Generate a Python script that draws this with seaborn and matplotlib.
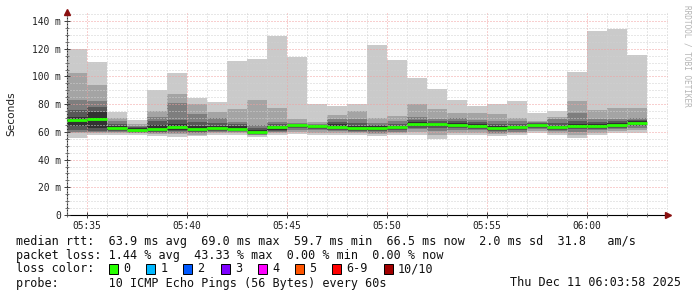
import matplotlib
matplotlib.use("Agg")
import matplotlib.pyplot as plt
import seaborn as sns
import numpy as np
import pandas as pd
from matplotlib.patches import Rectangle
from matplotlib.ticker import MultipleLocator

sns.set_theme(style="white")
plt.rcParams['font.family'] = ['DejaVu Sans Mono', 'DejaVu Sans']

# ---------------- data ----------------
bin_start = ['05:34', '05:35', '05:36', '05:37', '05:38', '05:39', '05:40', '05:41',
             '05:42', '05:43', '05:44', '05:45', '05:46', '05:47', '05:48', '05:49',
             '05:50', '05:51', '05:52', '05:53', '05:54', '05:55', '05:56', '05:57',
             '05:58', '05:59', '06:00', '06:01', '06:02']

# sorted ping round trip times (ms) per 1-minute bin, p1 = fastest ... p10 = slowest
p10 = [119.8, 110.6, 74.6, 68.3, 90.4, 102.5, 84.7, 81.3, 111.1, 112.6, 129.4, 114.3, 80.1, 78.9, 80.0,
       122.7, 111.9, 99.1, 90.9, 83.0, 78.9, 79.9, 82.3, 73.8, 75.0, 103.4, 132.8, 134.5, 115.5]
p9 = [102.5, 93.8, 70.2, 66.0, 75.0, 87.6, 80.0, 74.0, 76.5, 83.0, 77.5, 69.3, 67.0, 72.2, 75.0,
      70.2, 71.7, 80.1, 76.5, 73.8, 73.4, 73.0, 69.8, 68.0, 71.0, 82.3, 75.8, 77.5, 77.5]
p8 = [83.2, 82.0, 67.8, 64.5, 71.0, 80.5, 73.0, 70.0, 67.4, 65.0, 67.0, 66.5, 65.5, 69.3, 69.0,
      66.5, 67.5, 71.0, 69.0, 70.0, 68.5, 68.0, 67.5, 67.0, 69.0, 73.8, 69.3, 69.0, 70.0]
p7 = [75.5, 78.0, 65.5, 63.5, 68.0, 68.6, 67.0, 66.5, 65.5, 63.0, 65.5, 65.8, 65.0, 67.0, 66.5,
      65.0, 66.0, 68.5, 67.5, 67.5, 67.0, 66.0, 66.0, 66.5, 66.5, 68.0, 67.0, 67.5, 68.5]
p6 = [71.0, 74.5, 64.0, 62.5, 65.0, 65.5, 64.0, 64.5, 64.0, 61.5, 64.5, 65.3, 64.5, 65.5, 64.5,
      64.0, 64.5, 67.0, 66.5, 66.5, 66.0, 64.5, 64.5, 66.0, 64.5, 66.0, 65.5, 66.5, 67.5]
p5 = [64.0, 62.5, 61.5, 60.8, 60.5, 61.0, 60.5, 61.5, 61.0, 59.0, 61.5, 63.5, 63.0, 62.5, 61.5,
      61.5, 62.0, 64.5, 64.0, 63.5, 63.0, 61.5, 62.0, 64.0, 62.0, 63.0, 63.0, 64.0, 65.0]
p4 = [61.0, 60.6, 60.5, 60.2, 60.0, 60.3, 59.8, 60.5, 60.3, 58.5, 60.5, 62.5, 62.0, 61.5, 60.5,
      60.5, 61.0, 63.0, 62.5, 62.5, 62.0, 60.5, 61.0, 63.0, 61.0, 62.0, 62.0, 63.0, 64.0]
p3 = [60.0, 60.0, 60.0, 59.5, 59.3, 59.5, 59.0, 60.0, 59.8, 58.0, 60.0, 61.5, 61.0, 60.5, 60.0,
      59.5, 60.0, 62.0, 60.5, 61.0, 61.0, 59.5, 60.0, 62.0, 60.5, 60.0, 61.0, 62.0, 63.0]
p2 = [59.0, 59.0, 59.0, 59.0, 58.5, 58.5, 58.0, 59.0, 59.0, 57.5, 59.0, 60.0, 59.5, 59.5, 59.0,
      58.5, 59.0, 60.0, 58.0, 59.5, 59.5, 58.5, 59.0, 60.5, 59.5, 58.0, 59.5, 60.5, 61.5]
p1 = [55.5, 58.0, 57.7, 58.0, 57.0, 56.5, 57.0, 57.5, 57.5, 56.5, 58.0, 58.5, 57.5, 58.0, 57.5,
      57.0, 57.5, 58.0, 54.5, 58.0, 58.0, 57.0, 57.5, 59.0, 58.0, 55.5, 58.0, 59.0, 59.5]
median = [68.5, 69.0, 62.8, 61.5, 61.8, 63.6, 61.8, 63.0, 62.3, 59.7, 63.2, 64.6, 64.0, 63.8, 62.7,
          62.8, 63.3, 65.8, 65.4, 64.9, 64.5, 62.8, 63.2, 65.2, 63.3, 64.2, 64.2, 65.3, 66.5]

x_tick_labels = ['05:35', '05:40', '05:45', '05:50', '05:55', '06:00']
y_tick_values = [0, 20, 40, 60, 80, 100, 120, 140]
y_tick_labels = ['0', '20 m', '40 m', '60 m', '80 m', '100 m', '120 m', '140 m']

legend_lines = [
    'median rtt:  63.9 ms avg  69.0 ms max  59.7 ms min  66.5 ms now  2.0 ms sd  31.8   am/s',
    'packet loss: 1.44 % avg  43.33 % max  0.00 % min  0.00 % now',
]
loss_labels = ['0', '1', '2', '3', '4', '5', '6-9', '10/10']
loss_colors = ['#26ff00', '#00b8ff', '#0059ff', '#7e00ff', '#ff00ff', '#ff5500', '#ff0000', '#a10000']
probe_text = 'probe:       10 ICMP Echo Pings (56 Bytes) every 60s'
date_text = 'Thu Dec 11 06:03:58 2025'


def to_min(s):
    h, m = s.split(':')
    return int(h) * 60 + int(m)


df = pd.DataFrame({'start': [to_min(s) for s in bin_start],
                   'p1': p1, 'p2': p2, 'p3': p3, 'p4': p4, 'p5': p5,
                   'p6': p6, 'p7': p7, 'p8': p8, 'p9': p9, 'p10': p10,
                   'median': median})

# ---------------- figure ----------------
W, H = 697, 297
fig = plt.figure(figsize=(W / 100, H / 100), dpi=100, facecolor='white')
L, R, B, T = 66.5, 668, 215, 12
ax = fig.add_axes([L / W, (H - B) / H, (R - L) / W, (B - T) / H])
ax.set_facecolor('white')
x0 = df['start'].iloc[0]
ax.set_xlim(x0, x0 + (R - L) / 20.0)
ax.set_ylim(0, (B - T) / 1.3857)

# smoke layers
greys = ['#cacaca', '#a4a4a4', '#7e7e7e', '#585858', '#323232']
lows = ['p1', 'p2', 'p3', 'p4', 'p5']
highs = ['p10', 'p9', 'p8', 'p7', 'p6']
for lo, hi, c in zip(lows, highs, greys):
    ax.bar(df['start'], df[hi] - df[lo], bottom=df[lo], width=1.0, align='edge',
           color=c, linewidth=0, zorder=1)

# median line
ax.hlines(df['median'], df['start'], df['start'] + 1, colors='#26ff00',
          linewidth=2.0, zorder=3, capstyle='butt')

# grid & ticks
ax.yaxis.set_major_locator(MultipleLocator(20))
ax.yaxis.set_minor_locator(MultipleLocator(5))
ax.set_yticks(y_tick_values)
ax.set_yticklabels(y_tick_labels)
ax.set_xticks([to_min(s) for s in x_tick_labels])
ax.set_xticklabels(x_tick_labels)
ax.xaxis.set_minor_locator(MultipleLocator(1))
ax.set_axisbelow(False)
ax.grid(True, which='minor', color='#d0d0d0', linestyle=(0, (1, 2)), linewidth=0.72)
ax.grid(True, which='major', color='#f2a0a0', linestyle=(0, (1, 2)), linewidth=0.72)

ax.tick_params(axis='both', which='major', direction='inout', length=4, width=0.7,
               color='#404040', labelsize=6.9, labelcolor='#202020', pad=2)
ax.tick_params(axis='both', which='minor', direction='inout', length=2.5, width=0.6,
               color='#606060')
ax.tick_params(axis='y', which='both', left=True, right=False)
ax.tick_params(axis='x', which='both', bottom=True, top=False)

for s in ['top', 'right']:
    ax.spines[s].set_visible(False)
ax.spines['left'].set_color('#303030')
ax.spines['bottom'].set_color('#000000')
ax.spines['left'].set_linewidth(0.8)
ax.spines['bottom'].set_linewidth(0.8)

ymax = ax.get_ylim()[1]
xmax = ax.get_xlim()[1]
ax.plot([x0], [ymax], marker='^', color='#8b1010', markersize=4, clip_on=False, zorder=5)
ax.plot([xmax], [0], marker='>', color='#8b1010', markersize=4, clip_on=False, zorder=5)

# labels
fig.text(11 / W, 1 - 113.5 / H, 'Seconds', rotation=90, ha='center', va='center',
         family='DejaVu Sans', size=7.6, color='#202020')
fig.text(687 / W, 1 - 5 / H, 'RRDTOOL / TOBI OETIKER', rotation=270, ha='center', va='top',
         size=5.6, color='#b4b4b4')

# legend
LX = 16
fs = 8.5
fig.text(LX / W, 1 - 241 / H, legend_lines[0], ha='left', va='center', size=fs, color='#101010')
fig.text(LX / W, 1 - 255 / H, legend_lines[1], ha='left', va='center', size=fs, color='#101010')
fig.text(LX / W, 1 - 269 / H, 'loss color:', ha='left', va='center', size=fs, color='#101010')
box_x = [108.5, 146, 183, 220.5, 258, 295, 332, 383.5]
for bx, lab, c in zip(box_x, loss_labels, loss_colors):
    fig.add_artist(Rectangle((bx / W, 1 - 274 / H), 9 / W, 10 / H, transform=fig.transFigure,
                             facecolor=c, edgecolor='black', linewidth=0.7))
    fig.text((bx + 14.5) / W, 1 - 269 / H, lab, ha='left', va='center', size=fs, color='#101010')
fig.text(LX / W, 1 - 283 / H, probe_text, ha='left', va='center', size=fs, color='#101010')
fig.text(681 / W, 1 - 283 / H, date_text, ha='right', va='center', size=fs, color='#101010')

fig.savefig('out.png', dpi=100, facecolor='white')
